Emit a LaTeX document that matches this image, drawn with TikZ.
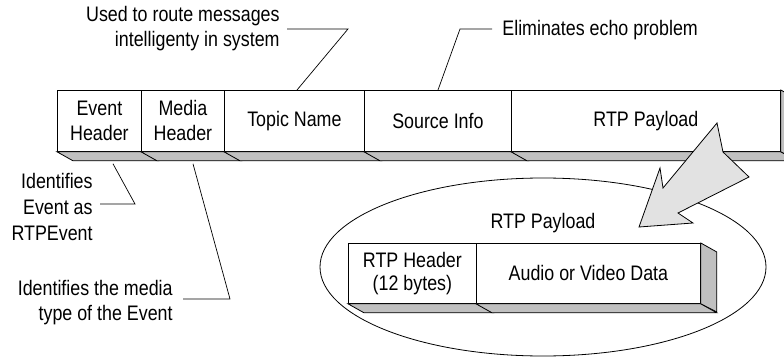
\documentclass[tikz,border=0pt]{standalone}
\usepackage{fontspec}
\setmainfont{Liberation Sans}[FakeStretch=0.85]
\usetikzlibrary{shapes.geometric,calc}
\definecolor{shadegray}{HTML}{C0C0C0}
\definecolor{arrowgray}{HTML}{E2E2E2}
\begin{document}
\begin{tikzpicture}[x=1pt,y=-1pt, line width=0.8pt,
  font=\fontsize{21pt}{25pt}\selectfont,
  seg/.style={draw, fill=white, minimum height=61pt, inner sep=0pt, align=center, anchor=north west},
  floor/.style={draw, fill=shadegray, line join=miter},
  note/.style={align=right, inner sep=0pt},
  leader/.style={draw, line width=0.7pt}]
\path[use as bounding box] (0,0) rectangle (784,358);
\clip (0,0) rectangle (784,358);

% upper message bar
\node[seg, minimum width=84pt]  (eh) at (57,90)  {Event\\Header};
\node[seg, minimum width=83pt]  (mh) at (141,90) {Media\\Header};
\node[seg, minimum width=140pt] (tn) at (224,90) {Topic Name};
\node[seg, minimum width=147pt] (si) at (364,90) {Source Info};
\node[seg, minimum width=269pt] (rp) at (511,90) {RTP Payload};
\foreach \n in {eh,mh,tn,si,rp}
  \draw[floor] (\n.south west) -- ++(16,9) -- ($(\n.south east)+(16,9)$) -- (\n.south east) -- cycle;
\draw[floor] (rp.north east) -- ++(16,9) -- ++(0,61) -- (rp.south east) -- cycle;

% ellipse with RTP payload detail
\node[draw, ellipse, minimum width=446pt, minimum height=178pt, inner sep=0pt] (ell) at (543,267) {};
\node (elab) at (543,223) {RTP Payload};
\node[seg, minimum width=128pt, minimum height=60pt] (rh) at (348,243) {RTP Header\\[-2pt](12 bytes)};
\node[seg, minimum width=224pt, minimum height=60pt] (av) at (476,243) {Audio or Video Data};
\foreach \n in {rh,av}
  \draw[floor] (\n.south west) -- ++(16,9) -- ($(\n.south east)+(16,9)$) -- (\n.south east) -- cycle;
\draw[floor] (av.north east) -- ++(16,9) -- ++(0,60) -- (av.south east) -- cycle;

% big arrow
\filldraw[fill=arrowgray, line join=miter] (717,123) -- (723,152) -- (749,177) -- (678,213) -- (693,223)
  -- (639,227) -- (660,168) -- (663,188) -- cycle;

% annotations
\node[note, anchor=east] (n1) at (280,29) {Used to route messages\\intelligenty in system};
\node[note, anchor=west] (n2) at (502,30) {Eliminates echo problem};
\node[note, anchor=east] (n3) at (93,207) {Identifies\\[1pt]Event as\\[1pt]RTPEvent};
\node[note, anchor=east] (n4) at (173,303) {Identifies the media\\type of the Event};

\coordinate (k1) at (348,29);
\coordinate (e1) at ($(tn.north west)+(73,0)$);
\draw[leader] ($(n1.east)+(7,0)$) -- (k1) -- (e1);
\coordinate (k2) at (460,29);
\coordinate (e2) at ($(si.north west)+(74,0)$);
\draw[leader] ($(n2.west)+(-10,-1)$) -- (k2) -- (e2);
\coordinate (k3) at (135,204);
\coordinate (e3) at ($(eh.south west)+(56,12)$);
\draw[leader] ($(n3.east)+(7,-3)$) -- (k3) -- (e3);
\coordinate (k4) at (230,299);
\coordinate (e4) at ($(mh.south west)+(52,12)$);
\draw[leader] ($(n4.east)+(10,-4)$) -- (k4) -- (e4);
\end{tikzpicture}
\end{document}
